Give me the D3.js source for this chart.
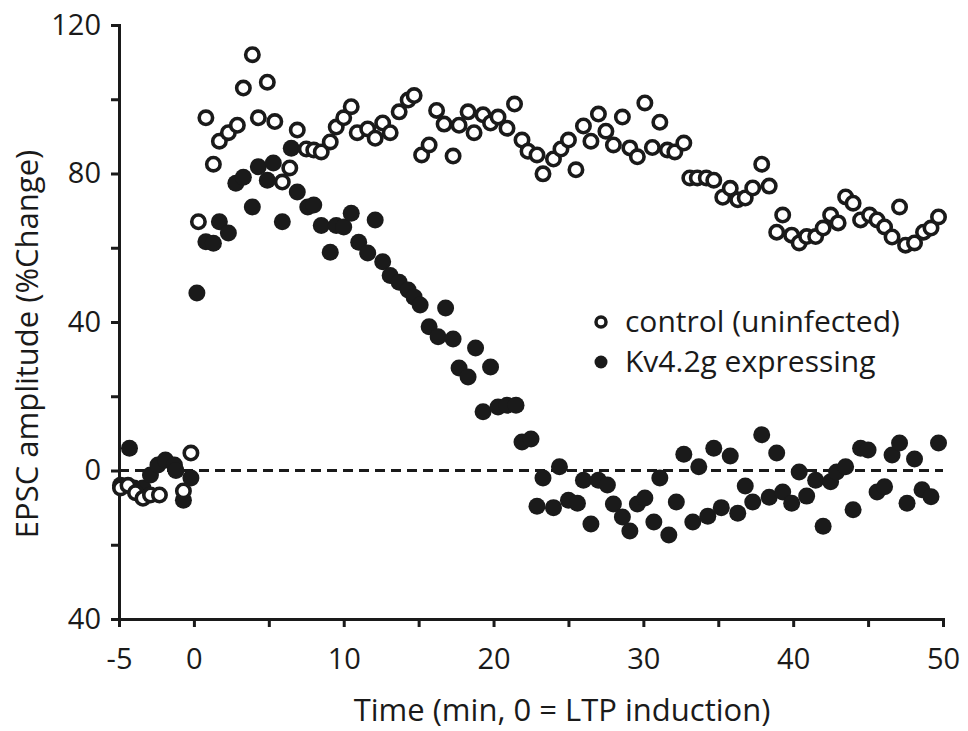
<!DOCTYPE html>
<html>
<head>
<meta charset="utf-8">
<script src="https://cdn.jsdelivr.net/npm/d3@7"></script>
<style>
  body { margin: 0; background: #fff; }
  svg text { font-family: "Open Sans", sans-serif; fill: #1a1a1a; }
</style>
</head>
<body>
<svg id="chart" width="968" height="731"></svg>
<script>
// control (uninfected): [time (min), EPSC %change]
const control = [
  [-4.9, -4.7], [-4.4, -4], [-3.9, -6], [-3.4, -7.5], [-2.9, -6.6], [-2.3, -6.6],
  [-0.7, -5.5], [-0.2, 4.7],
  [0.3, 67], [0.8, 95], [1.3, 82.5], [1.7, 88.7], [2.3, 91], [2.9, 93], [3.3, 103],
  [3.9, 112], [4.3, 95], [4.9, 104.6], [5.4, 94], [5.9, 77.7], [6.4, 81.5], [6.9, 91.7],
  [7.5, 86.6], [8, 86.3], [8.5, 85.8], [9.1, 88.5], [9.5, 92.5], [10, 95], [10.5, 98],
  [10.9, 91], [11.6, 92], [12.1, 89.5], [12.6, 93.6], [13.1, 91], [13.7, 96.6],
  [14.3, 99.8], [14.7, 101], [15.2, 85], [15.7, 87.7], [16.2, 97], [16.7, 93.3],
  [17.3, 84.7], [17.7, 93], [18.3, 96.6], [18.7, 91], [19.3, 95.8], [19.8, 93.6],
  [20.3, 95.2], [20.9, 92.2], [21.4, 98.7], [21.9, 89], [22.3, 86], [22.9, 85],
  [23.3, 79.9], [24, 83.9], [24.5, 86.6], [25, 89], [25.5, 81], [26, 92.8], [26.5, 88.7],
  [27, 96], [27.5, 91.4], [28, 87.7], [28.6, 95.2], [29.1, 86.9], [29.6, 84.5], [30.1, 99],
  [30.6, 87], [31.1, 93.8], [31.6, 86.3], [32.1, 85.8], [32.7, 88.2], [33.1, 78.8],
  [33.6, 78.8], [34.2, 78.8], [34.7, 78.2], [35.3, 73.6], [35.8, 76], [36.3, 72.9],
  [36.8, 73.4], [37.3, 76.1], [37.9, 82.5], [38.4, 76.6], [38.9, 64.2], [39.3, 68.8],
  [39.9, 63.4], [40.4, 61.3], [40.9, 63], [41.5, 63], [42, 65.3], [42.5, 68.8], [43, 66.7],
  [43.5, 73.7], [44, 72], [44.5, 67.5], [45.1, 68.8], [45.6, 67.5], [46.1, 65.6],
  [46.6, 62.9], [47.1, 71], [47.5, 60.7], [48.1, 61.3], [48.7, 64.2], [49.2, 65.3],
  [49.7, 68.3]
]

// Kv4.2g expressing
const kv = [
  [-4.9, -4], [-4.3, 6], [-4, -4.7], [-3.4, -4.7], [-2.9, -1.2], [-2.4, 1.5], [-1.9, 2.8],
  [-1.3, 1.5], [-1.2, 0], [-0.7, -8], [-0.2, -2],
  [0.2, 47.8], [0.8, 61.6], [1.3, 61.2], [1.7, 67], [2.3, 64], [2.8, 77.4], [3.3, 79],
  [3.9, 71], [4.3, 81.8], [4.9, 78.2], [5.3, 82.8], [5.9, 67], [6.5, 86.8], [6.9, 75],
  [7.6, 71], [8, 71.5], [8.5, 66], [9.1, 58.8], [9.5, 66], [10, 65.6], [10.5, 69.3],
  [11, 61.5], [11.6, 58.6], [12.1, 67.5], [12.6, 56.2], [13.1, 52.5], [13.7, 50.7],
  [14.3, 48.6], [14.7, 46.7], [15.1, 44.6], [15.7, 38.7], [16.3, 36], [16.8, 43.8],
  [17.3, 35.4], [17.7, 27.6], [18.3, 25.2], [18.8, 33], [19.3, 15.8], [19.8, 27.9],
  [20.3, 17.1], [20.9, 17.6], [21.5, 17.6], [21.9, 7.7], [22.5, 8.5], [22.9, -9.6],
  [23.3, -2], [24, -10], [24.4, 1], [25, -8], [25.6, -8.8], [26, -2.6], [26.5, -14.4],
  [27, -2.6], [27.6, -3.9], [28, -9], [28.6, -12.5], [29.1, -16.3], [29.6, -9], [30.1, -7.4],
  [30.7, -13.9], [31.1, -2], [31.7, -17.4], [32.2, -8.5], [32.7, 4.4], [33.3, -13.9],
  [33.7, 1], [34.3, -12.3], [34.7, 6], [35.2, -10], [35.8, 3.9], [36.3, -11.5], [36.8, -4.2],
  [37.3, -8.5], [37.9, 9.6], [38.4, -7.2], [38.9, 4.7], [39.3, -5.8], [39.9, -8.8],
  [40.4, -0.4], [40.9, -6.9], [41.5, -2.6], [42, -15], [42.5, -3], [42.9, -0.4], [43.5, 1],
  [44, -10.6], [44.5, 6], [45, 5.5], [45.6, -5.8], [46.1, -4.4], [46.6, 4.2], [47.1, 7.4],
  [47.6, -8.8], [48.1, 3.1], [48.6, -5.2], [49.2, -7.1], [49.7, 7.4]
]

const xTicks = [-5, 0, 5, 10, 15, 20, 25, 30, 35, 40, 45, 50]
const xLabels = { '-5': '-5', 0: '0', 10: '10', 20: '20', 30: '30', 40: '40', 50: '50' }
const yTicks = [-40, -20, 0, 20, 40, 60, 80, 100, 120]
const yLabels = { '-40': '40', 0: '0', 40: '40', 80: '80', 120: '120' }
const legendItems = [
  { name: 'control (uninfected)', open: true },
  { name: 'Kv4.2g expressing', open: false }
]

const ink = '#1a1a1a'
const svg = d3.select('#chart')

const x = d3.scaleLinear().domain([-5, 50]).range([119, 943])
const y = d3.scaleLinear().domain([-40, 120]).range([619, 25])

// axes
const xAxis = svg.append('g')
  .attr('transform', `translate(0,${y(-40)})`)
  .call(d3.axisBottom(x).tickValues(xTicks).tickSize(8).tickPadding(21)
    .tickFormat(d => xLabels[d] || ''))
const yAxis = svg.append('g')
  .attr('transform', `translate(${x(-5)},0)`)
  .call(d3.axisLeft(y).tickValues(yTicks).tickSize(8).tickPadding(10)
    .tickFormat(d => yLabels[d] || ''))

for (const ax of [xAxis, yAxis]) {
  ax.select('.domain').attr('stroke', ink).attr('stroke-width', 3)
  ax.selectAll('.tick line').attr('stroke', ink).attr('stroke-width', 3)
  ax.selectAll('.tick text').attr('font-size', 29).attr('fill', ink)
    .style('font-family', '"Open Sans", sans-serif')
}
xAxis.selectAll('.tick text').attr('dy', '0.71em')

// zero line
svg.append('line')
  .attr('x1', x(-5)).attr('x2', x(50))
  .attr('y1', y(0)).attr('y2', y(0))
  .attr('stroke', ink).attr('stroke-width', 3)
  .attr('stroke-dasharray', '10 6')

// points: filled first, open on top
svg.append('g').selectAll('circle')
  .data(kv)
  .join('circle')
  .attr('cx', d => x(d[0]))
  .attr('cy', d => y(d[1]))
  .attr('r', 8.5)
  .attr('fill', ink)

svg.append('g').selectAll('circle')
  .data(control)
  .join('circle')
  .attr('cx', d => x(d[0]))
  .attr('cy', d => y(d[1]))
  .attr('r', 6.7)
  .attr('fill', '#fff')
  .attr('stroke', ink)
  .attr('stroke-width', 3.6)

// axis titles
svg.append('text')
  .attr('x', 562).attr('y', 721)
  .attr('text-anchor', 'middle')
  .attr('font-size', 31)
  .text('Time (min, 0 = LTP induction)')

svg.append('text')
  .attr('transform', 'translate(38,344) rotate(-90)')
  .attr('text-anchor', 'middle')
  .attr('font-size', 31)
  .text('EPSC amplitude (%Change)')

// legend
const legend = svg.append('g').selectAll('g')
  .data(legendItems)
  .join('g')
  .attr('transform', (d, i) => `translate(601,${322 + i * 40})`)

legend.append('circle')
  .attr('r', d => d.open ? 5 : 6.5)
  .attr('fill', d => d.open ? '#fff' : ink)
  .attr('stroke', ink)
  .attr('stroke-width', d => d.open ? 3.5 : 0)

legend.append('text')
  .attr('x', 24).attr('y', 10)
  .attr('font-size', 30)
  .text(d => d.name)
</script>
</body>
</html>
